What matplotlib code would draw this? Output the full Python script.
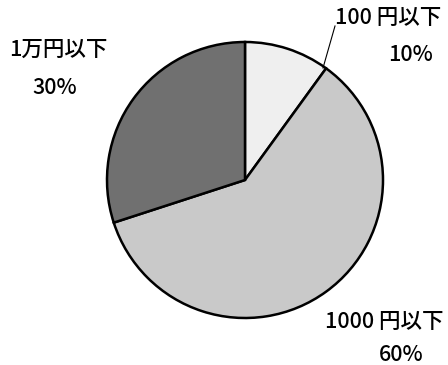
import matplotlib
matplotlib.use("Agg")
import matplotlib.pyplot as plt

plt.rcParams['font.family'] = ['Noto Sans CJK JP', 'DejaVu Sans']

categories = ["100 円以下", "1000 円以下", "1万円以下"]
values = [10, 60, 30]
pct_labels = ["10%", "60%", "30%"]
colors = ["#efefef", "#c9c9c9", "#707070"]

W, H = 448, 365
fig = plt.figure(figsize=(W / 100, H / 100), dpi=100)
# pie centre (245,180) radius ~138 px
cx, cy, r = 245, 180, 138
ax = fig.add_axes([(cx - r) / W, 1 - (cy + r) / H, 2 * r / W, 2 * r / H])
ax.pie(values, colors=colors, startangle=90, counterclock=False,
       wedgeprops=dict(edgecolor="black", linewidth=1.8), radius=1.0)
ax.set_xlim(-1.0, 1.0)
ax.set_ylim(-1.0, 1.0)
ax.set_aspect('equal')
ax.axis('off')

fs = 15.5
def t(x, y, s, ha="center"):
    fig.text(x / W, 1 - y / H, s, ha=ha, va="center", fontsize=fs,
             color="black", fontweight="medium")

t(388, 18, categories[0])
t(410, 55, pct_labels[0])
t(384, 322, categories[1])
t(401, 355, pct_labels[1])
t(58, 50, categories[2])
t(55, 88, pct_labels[2])

# leader line for 100円以下
fig.add_artist(plt.Line2D([323 / W, 335 / W], [1 - 68 / H, 1 - 26 / H],
                          color="black", linewidth=0.8))

fig.savefig("out.png", dpi=100, facecolor="white")
